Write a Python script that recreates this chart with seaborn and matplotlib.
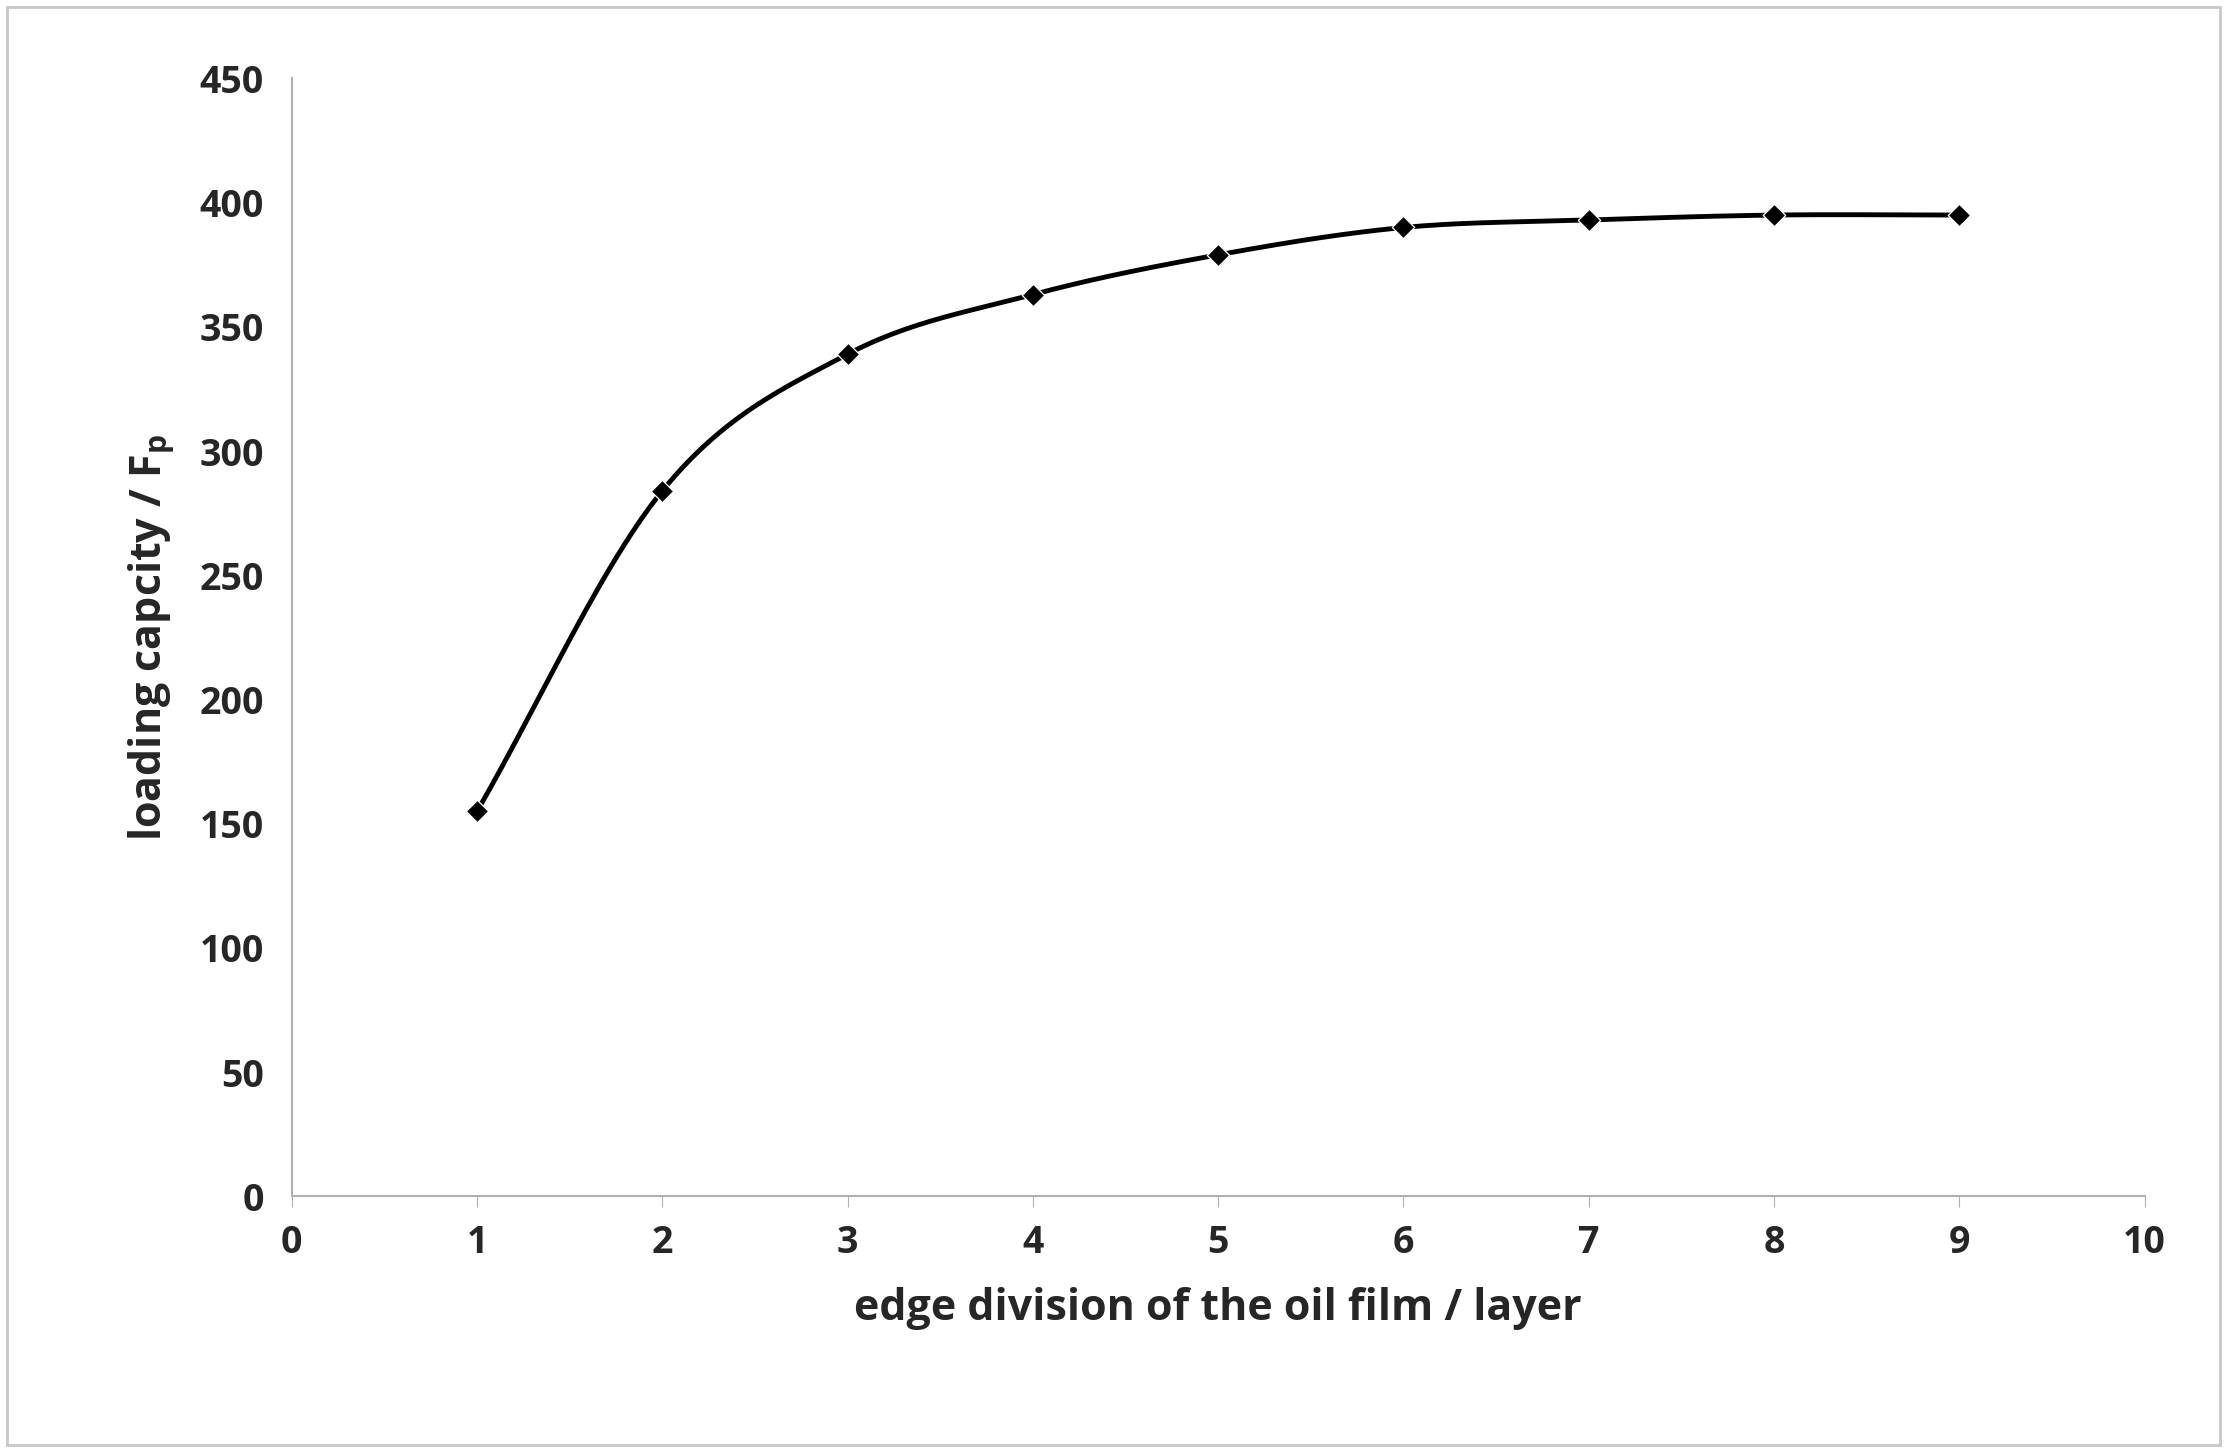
import numpy as np
import seaborn as sns
import matplotlib
matplotlib.use("Agg")
from matplotlib import pyplot as plt

layers = [1, 2, 3, 4, 5, 6, 7, 8, 9]
capacity = [155, 284, 339, 363, 379, 390, 393, 395, 395]

sns.set_style("white")
plt.rcParams['font.family'] = ['Open Sans', 'DejaVu Sans']
plt.rcParams['font.weight'] = 'bold'

fig = plt.figure(figsize=(22.27, 14.52), dpi=100)
ax = fig.add_axes([0.131, 0.176, 0.832, 0.770])

# smoothed line like a spreadsheet "smooth line" (Catmull-Rom through the points)
x = np.array(layers, float)
y = np.array(capacity, float)
px = np.concatenate([[2 * x[0] - x[1]], x, [2 * x[-1] - x[-2]]])
py = np.concatenate([[2 * y[0] - y[1]], y, [2 * y[-1] - y[-2]]])
sx, sy = [], []
t = np.linspace(0, 1, 30)
for i in range(1, len(px) - 2):
    for arr, out in ((px, sx), (py, sy)):
        p0, p1, p2, p3 = arr[i - 1:i + 3]
        out.extend(0.5 * (2 * p1 + (-p0 + p2) * t + (2 * p0 - 5 * p1 + 4 * p2 - p3) * t ** 2
                          + (-p0 + 3 * p1 - 3 * p2 + p3) * t ** 3))
sns.lineplot(x=sx, y=sy, ax=ax, color="black", linewidth=3.5, sort=False)
sns.scatterplot(x=layers, y=capacity, ax=ax, color="black", marker="D", s=130, zorder=3)

ax.set_xlim(0, 10)
ax.set_ylim(0, 450)
ax.set_xticks(range(0, 11))
ax.set_yticks(range(0, 451, 50))
for s in ["top", "right"]:
    ax.spines[s].set_visible(False)
for s in ["left", "bottom"]:
    ax.spines[s].set_color("#b0b0b0")
    ax.spines[s].set_linewidth(1.5)
ax.tick_params(axis="both", labelsize=27, length=8, color="#b0b0b0", direction="out",
               bottom=True, left=False, pad=12)
ax.set_xlabel("edge division of the oil film / layer", fontsize=31, fontweight="bold", labelpad=18)
ax.set_ylabel("loading capcity / F$_\\mathregular{p}$", fontsize=31, fontweight="bold", labelpad=16)

fig.patches.append(plt.Rectangle((0.003, 0.005), 0.994, 0.99, transform=fig.transFigure,
                                 fill=False, edgecolor="#c8c8c8", linewidth=2))
fig.savefig("out.png", dpi=100)
